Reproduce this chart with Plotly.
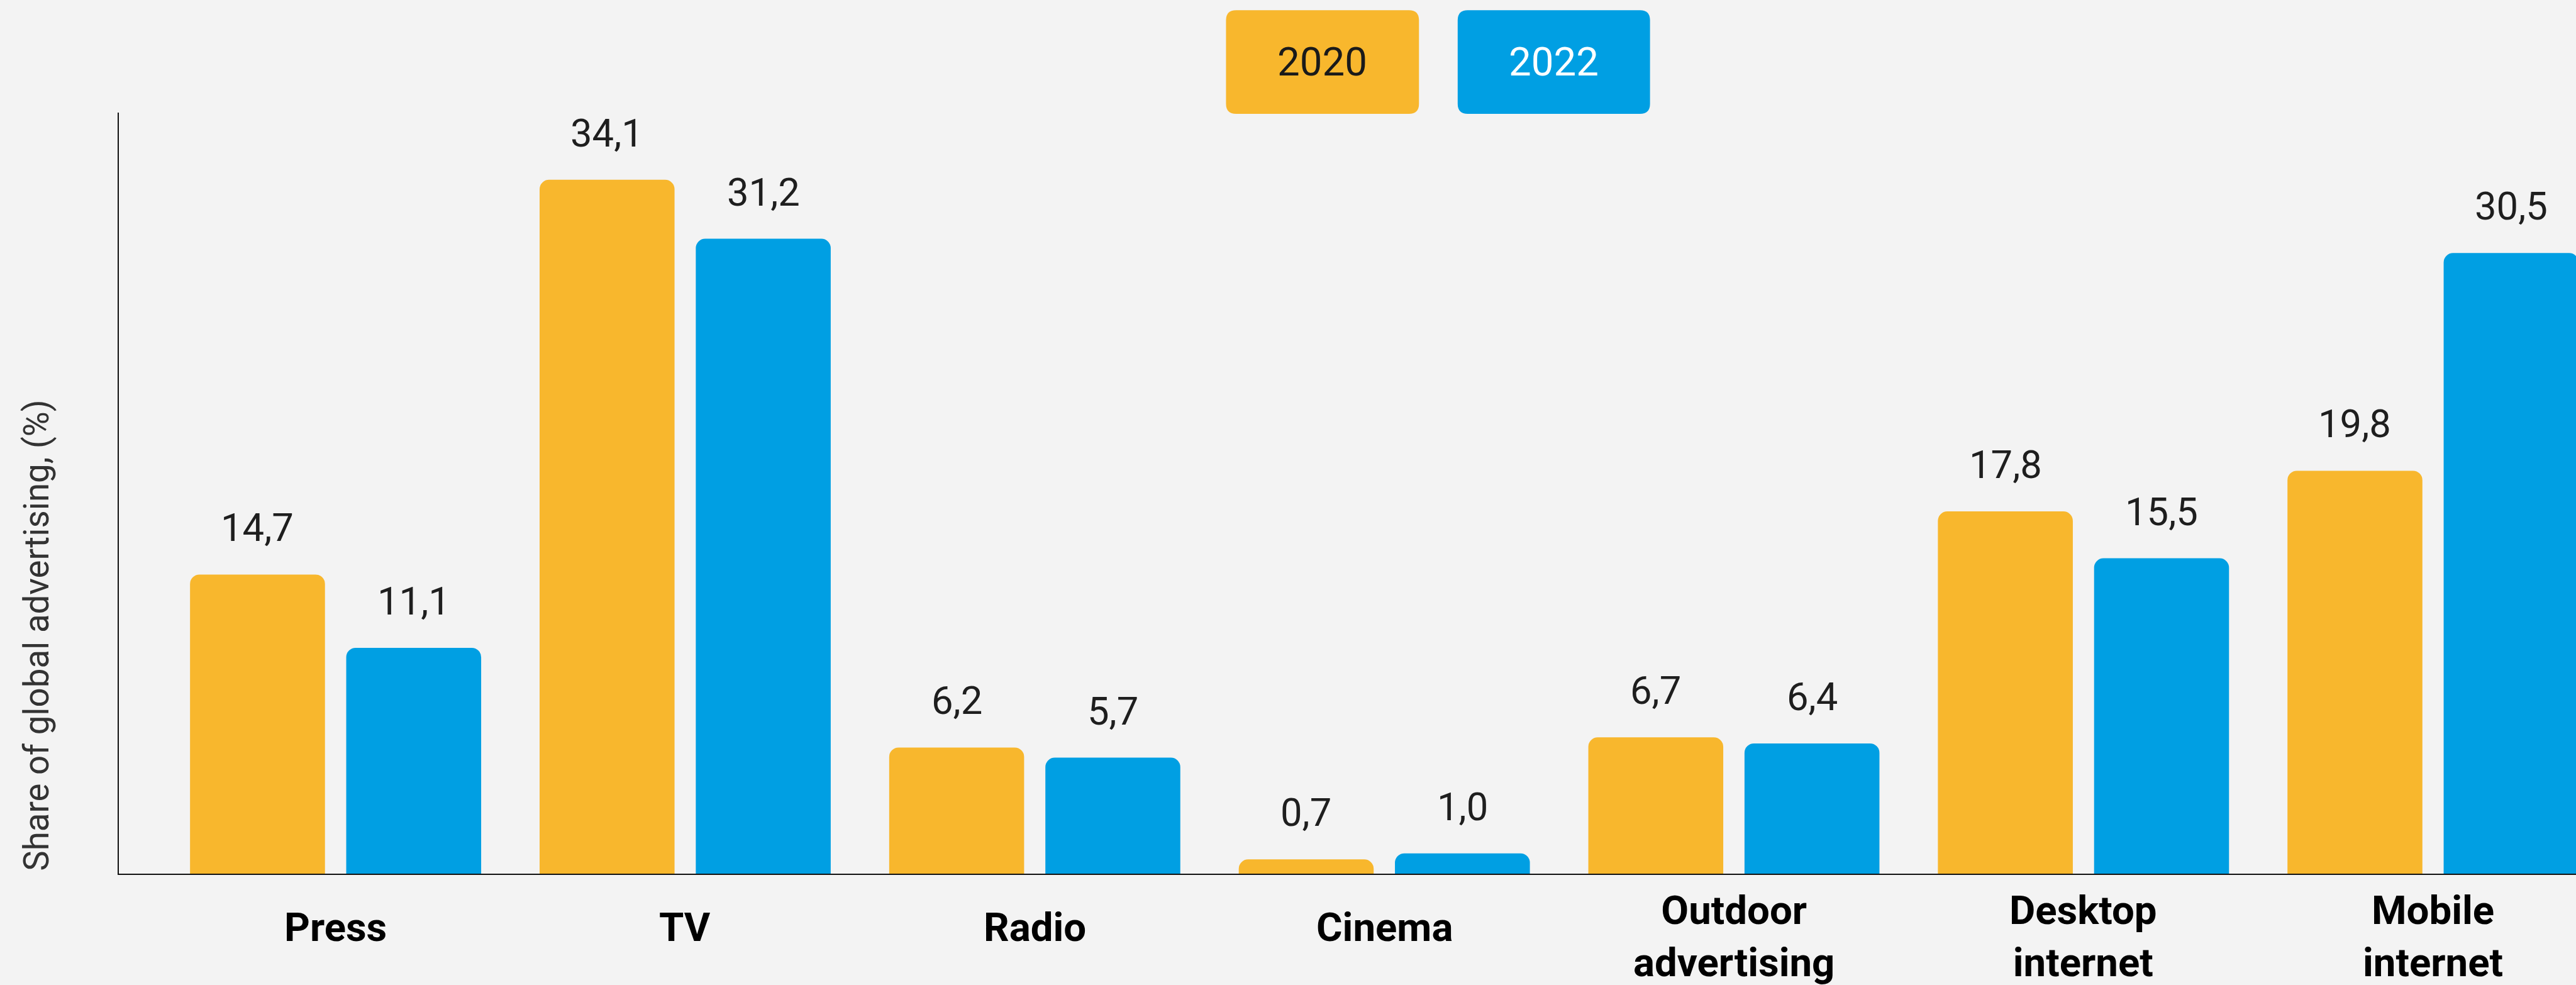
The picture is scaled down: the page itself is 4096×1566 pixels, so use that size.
import plotly.graph_objects as go

# ---------------- data ----------------
categories = ["Press", "TV", "Radio", "Cinema", "Outdoor<br>advertising",
              "Desktop<br>internet", "Mobile<br>internet"]
series_names = ["2020", "2022"]
values_2020 = [14.7, 34.1, 6.2, 0.7, 6.7, 17.8, 19.8]
values_2022 = [11.1, 31.2, 5.7, 1.0, 6.4, 15.5, 30.5]
y_title = "Share of global advertising, (%)"

# ---------------- style / layout ----------------
S = 0.993
W, H = 4096, 1566
BG = "#f3f3f3"
ORANGE = "#f8b72d"
BLUE = "#009fe3"
FONT = "Roboto"

L = 190 * S
T = 180 * S
B = H - 1399 * S
R = 0
PW = W - L - R
PH = H - T - B

BAR_W = 0.386
HALF_SEP = 0.2234
off_2020 = -HALF_SEP - BAR_W / 2
off_2022 = HALF_SEP - BAR_W / 2

xs = list(range(len(categories)))

fig = go.Figure()
fig.add_trace(go.Bar(
    x=xs, y=values_2020, name=series_names[0], width=BAR_W, offset=off_2020,
    marker=dict(color=ORANGE, cornerradius=15, line=dict(width=0)),
    hoverinfo="skip"))
fig.add_trace(go.Bar(
    x=xs, y=values_2022, name=series_names[1], width=BAR_W, offset=off_2022,
    marker=dict(color=BLUE, cornerradius=15, line=dict(width=0)),
    hoverinfo="skip"))


def fmt(v):
    return f"{v:.1f}".replace(".", ",")


annotations = []
for i, (a, b) in enumerate(zip(values_2020, values_2022)):
    for xv, v in ((i - HALF_SEP, a), (i + HALF_SEP, b)):
        annotations.append(dict(
            x=xv, y=v, xref="x", yref="y", text=fmt(v), showarrow=False,
            xanchor="center", yanchor="bottom", yshift=36,
            font=dict(family=FONT, size=62 * S, color="#1e1e1e")))

# category labels under the axis (two-line labels sit a little higher)
for i, cat in enumerate(categories):
    multi = "<br>" in cat
    annotations.append(dict(
        x=i, y=0, xref="x", yref="y", text=cat, showarrow=False,
        xanchor="center", yanchor="top", yshift=-19 if multi else -46,
        font=dict(family=FONT, size=64 * S, color="#000000", weight=700)))


def pxx(p):
    return (p - L) / PW


def pxy(p):
    return (H - B - p) / PH


# y-axis title
annotations.append(dict(
    x=pxx(58 * S), y=pxy(1017 * S), xref="paper", yref="paper",
    text=y_title, showarrow=False, textangle=-90,
    xanchor="center", yanchor="middle",
    font=dict(family=FONT, size=55 * S, color="#333333")))


def rounded_rect(x0, y0, x1, y1, r):
    pts = [
        ("M", (x0 + r, y0)), ("L", (x1 - r, y0)),
        ("Q", (x1, y0), (x1, y0 + r)), ("L", (x1, y1 - r)),
        ("Q", (x1, y1), (x1 - r, y1)), ("L", (x0 + r, y1)),
        ("Q", (x0, y1), (x0, y1 - r)), ("L", (x0, y0 + r)),
        ("Q", (x0, y0), (x0 + r, y0)),
    ]
    out = []
    for p in pts:
        cmd = p[0]
        coords = " ".join(f"{pxx(x):.6f},{pxy(y):.6f}" for (x, y) in p[1:])
        out.append(f"{cmd} {coords}")
    return " ".join(out) + " Z"


legend_boxes = [
    (series_names[0], ORANGE, "#1a1a1a", (1963, 16, 2272, 182)),
    (series_names[1], BLUE, "#ffffff", (2334, 16, 2642, 182)),
]
shapes = []
for name, col, tcol, (x0, y0, x1, y1) in legend_boxes:
    x0, y0, x1, y1 = x0 * S, y0 * S, x1 * S, y1 * S
    shapes.append(dict(type="path", xref="paper", yref="paper",
                       path=rounded_rect(x0, y0, x1, y1, 16 * S),
                       fillcolor=col, line=dict(width=0), layer="above"))
    annotations.append(dict(
        x=pxx((x0 + x1) / 2), y=pxy((y0 + y1) / 2), xref="paper", yref="paper",
        text=name, showarrow=False, xanchor="center", yanchor="middle",
        font=dict(family=FONT, size=64 * S, color=tcol)))

fig.update_layout(
    width=W, height=H,
    margin=dict(l=L, r=R, t=T, b=B, pad=0, autoexpand=False),
    paper_bgcolor=BG, plot_bgcolor=BG,
    barmode="overlay",
    showlegend=False,
    annotations=annotations,
    shapes=shapes,
    font=dict(family=FONT),
    xaxis=dict(
        range=[-0.620, 6.409], tickvals=xs, showticklabels=False,
        showgrid=False, zeroline=False, ticks="", automargin=False,
        showline=True, linecolor="#111111", linewidth=2.5 * S,
        fixedrange=True),
    yaxis=dict(
        range=[0, 37.4], showticklabels=False, showgrid=False, zeroline=False,
        ticks="", showline=True, linecolor="#111111", linewidth=2.5 * S,
        automargin=False, fixedrange=True),
)

fig.write_html("out.html", config={"displayModeBar": False})
